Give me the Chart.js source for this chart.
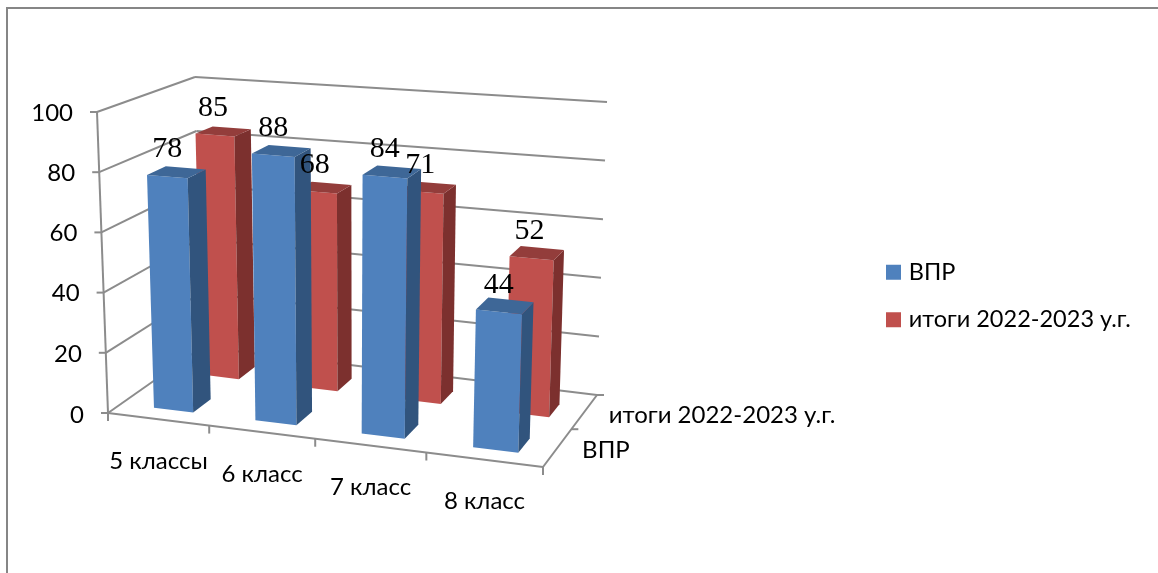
<!DOCTYPE html>
<html>
<head>
<meta charset="utf-8">
<script src="https://cdn.jsdelivr.net/npm/chart.js@4"></script>
<style>
  body { margin: 0; background: #fff; }
  canvas { display: block; }
</style>
</head>
<body>
<canvas id="chart" width="1158" height="573"></canvas>
<script>
"use strict"

const categories = ["5 классы", "6 класс", "7 класс", "8 класс"];
const seriesNames = ["ВПР", "итоги 2022-2023 у.г."];
const vprValues = [78, 88, 84, 44];
const itogiValues = [85, 68, 71, 52];
const yTicks = [0, 20, 40, 60, 80, 100];

// corners of the 3d box on screen: front left, front right, back right, back left
const floorQuad = [[108, 413], [543, 467], [597, 395], [202, 347]];
const roofQuad = [[97, 112], [553, 147], [607, 102], [195, 77]];

// depth range of each row on the floor, 0 = front, 1 = back
const rowDepth = [[0.13, 0.32], [0.62, 0.81]];
const barHalfWidth = 0.049;
const barShift = [0.007, 0.012];
const labelShift = [0, -2];
const perspective = -0.077;

const axisColor = "#8c8c8c";
const blue = { front: "#4f81bd", side: "#31547d", top: "#3e6797" };
const red = { front: "#c0504d", side: "#7c302e", top: "#933d3b" };
const axisFont = "24px Lato";
const valueFont = "30px 'Liberation Serif'";

// maps the unit square onto a quad
const makeHomography = (q) => {
    const dx1 = q[1][0] - q[2][0], dx2 = q[3][0] - q[2][0], sx = q[0][0] - q[1][0] + q[2][0] - q[3][0];
    const dy1 = q[1][1] - q[2][1], dy2 = q[3][1] - q[2][1], sy = q[0][1] - q[1][1] + q[2][1] - q[3][1];
    const den = dx1 * dy2 - dx2 * dy1;
    const g = (sx * dy2 - dx2 * sy) / den;
    const h = (dx1 * sy - sx * dy1) / den;
    const a = q[1][0] - q[0][0] + g * q[1][0], b = q[3][0] - q[0][0] + h * q[3][0];
    const d = q[1][1] - q[0][1] + g * q[1][1], e = q[3][1] - q[0][1] + h * q[3][1];
    return (u, v) => {
        const w = g * u + h * v + 1;
        return [(a * u + b * v + q[0][0]) / w, (d * u + e * v + q[0][1]) / w];
    };
};

const floorMap = makeHomography(floorQuad);

// how far the wall top is from the floor at each corner, blended across the box
const riseAt = (u, d, k) => {
    const rise = floorQuad.map((p, i) => roofQuad[i][k] - p[k]);
    return (rise[0] * (1 - u) + rise[1] * u) * (1 - d) + (rise[3] * (1 - u) + rise[2] * u) * d;
};

const box3d = {
    id: "box3d",

    afterLayout(chart) {
        // legend sits lower than the centre of the plot
        const legend = chart.legend;
        const h = legend.bottom - legend.top;
        legend.left = 866;
        legend.right = 1158;
        legend.top = 296 - h / 2;
        legend.bottom = legend.top + h;
    },

    beforeDatasetsDraw(chart) {
        const ctx = chart.ctx;
        const x = chart.scales.x;
        const y = chart.scales.y;

        // u along the categories, d into the depth, val on the y scale
        const project = (u, d, val) => {
            const f = (y.bottom - y.getPixelForValue(val)) / (y.bottom - y.top);
            const su = u * (1 + perspective) / (1 + perspective * u);
            const a = floorMap(su, d);
            return [a[0] + riseAt(su, d, 0) * f, a[1] + riseAt(su, d, 1) * f];
        };
        const line = (p, q) => {
            ctx.beginPath();
            ctx.moveTo(p[0], p[1]);
            ctx.lineTo(q[0], q[1]);
            ctx.stroke();
        };
        const face = (pts, color) => {
            ctx.beginPath();
            pts.forEach((p, i) => i ? ctx.lineTo(p[0], p[1]) : ctx.moveTo(p[0], p[1]));
            ctx.closePath();
            ctx.fillStyle = color;
            ctx.fill();
        };
        const text = (str, px, py, font, align) => {
            ctx.font = font;
            ctx.textAlign = align;
            ctx.textBaseline = "middle";
            ctx.fillStyle = "#000";
            ctx.fillText(str, px, py);
        };

        // outer frame
        ctx.strokeStyle = "#868686";
        ctx.lineWidth = 2;
        ctx.beginPath();
        ctx.moveTo(7, 573);
        ctx.lineTo(7, 8);
        ctx.lineTo(1158, 8);
        ctx.stroke();

        // walls and gridlines
        ctx.strokeStyle = axisColor;
        ctx.lineWidth = 2;
        y.ticks.forEach((t) => {
            const front = project(0, 0, t.value);
            const back = project(0, 1, t.value);
            line(front, back);
            line(back, project(1, 1, t.value));
            line(front, [front[0] - 7, front[1]]);
            text(String(t.value), front[0] - 24, front[1] + 1 + (t.value === 0 ? 1 : 0), axisFont, "right");
        });
        line(project(0, 0, 0), project(0, 0, 100));
        line(project(0, 0, 0), project(1, 0, 0));
        line(project(1, 0, 0), project(1, 1, 0));

        // ticks on the floor
        for (let i = 0; i <= categories.length; i++) {
            const p = project(i / categories.length, 0, 0);
            line(p, [p[0], p[1] + 8]);
        }
        [0.5, 1].forEach((d) => {
            const p = project(1, d, 0);
            line(p, [p[0] + 7, p[1]]);
        });

        const uOf = (i) => (x.getPixelForValue(i) - x.left) / x.width;

        // back row first
        const rows = [
            { values: itogiValues, depth: rowDepth[1], colors: red, shift: barShift[1], labelShift: labelShift[1] },
            { values: vprValues, depth: rowDepth[0], colors: blue, shift: barShift[0], labelShift: labelShift[0] },
        ];
        rows.forEach((row) => {
            row.values.forEach((val, i) => {
                const u0 = uOf(i) + row.shift - barHalfWidth;
                const u1 = uOf(i) + row.shift + barHalfWidth;
                const d0 = row.depth[0];
                const d1 = row.depth[1];
                face([project(u0, d0, 0), project(u1, d0, 0), project(u1, d0, val), project(u0, d0, val)], row.colors.front);
                face([project(u1, d0, 0), project(u1, d1, 0), project(u1, d1, val), project(u1, d0, val)], row.colors.side);
                face([project(u0, d0, val), project(u1, d0, val), project(u1, d1, val), project(u0, d1, val)], row.colors.top);
            });
        });

        // value labels go on top of all bars
        rows.forEach((row) => {
            row.values.forEach((val, i) => {
                const p = project(uOf(i) + row.shift, row.depth[0], val);
                text(String(val), p[0] + row.labelShift, p[1] - 27, valueFont, "center");
            });
        });

        // category and series names
        categories.forEach((name, i) => {
            const p = project(uOf(i), 0, 0);
            text(name, p[0] + 0.5, p[1] + 42, axisFont, "center");
        });
        seriesNames.forEach((name, i) => {
            const p = project(1, (rowDepth[i][0] + rowDepth[i][1]) / 2, 0);
            text(name, p[0] + 26, p[1] + 1, axisFont, "left");
        });

        // bars are done by hand above, so skip the flat ones
        return false;
    },
};

new Chart(document.getElementById("chart"), {
    type: "bar",
    data: {
        labels: categories,
        datasets: [
            { label: seriesNames[0], data: vprValues, backgroundColor: blue.front, borderColor: blue.front, borderWidth: 8 },
            { label: seriesNames[1], data: itogiValues, backgroundColor: red.front, borderColor: red.front, borderWidth: 8 },
        ],
    },
    options: {
        responsive: false,
        animation: false,
        devicePixelRatio: 1,
        layout: { padding: { top: 112, bottom: 160, left: 97, right: 0 } },
        scales: {
            x: { display: false },
            y: {
                min: yTicks[0],
                max: yTicks[yTicks.length - 1],
                ticks: { display: false, stepSize: 20 },
                grid: { display: false },
                border: { display: false },
            },
        },
        plugins: {
            legend: {
                position: "right",
                labels: {
                    // small box with a thick border, keeps the text close to the swatch
                    boxWidth: 7,
                    boxHeight: 7,
                    padding: 24,
                    color: "#000",
                    font: { family: "Lato", size: 23.5 },
                },
            },
            tooltip: { enabled: false },
        },
    },
    plugins: [box3d],
});
</script>
</body>
</html>
